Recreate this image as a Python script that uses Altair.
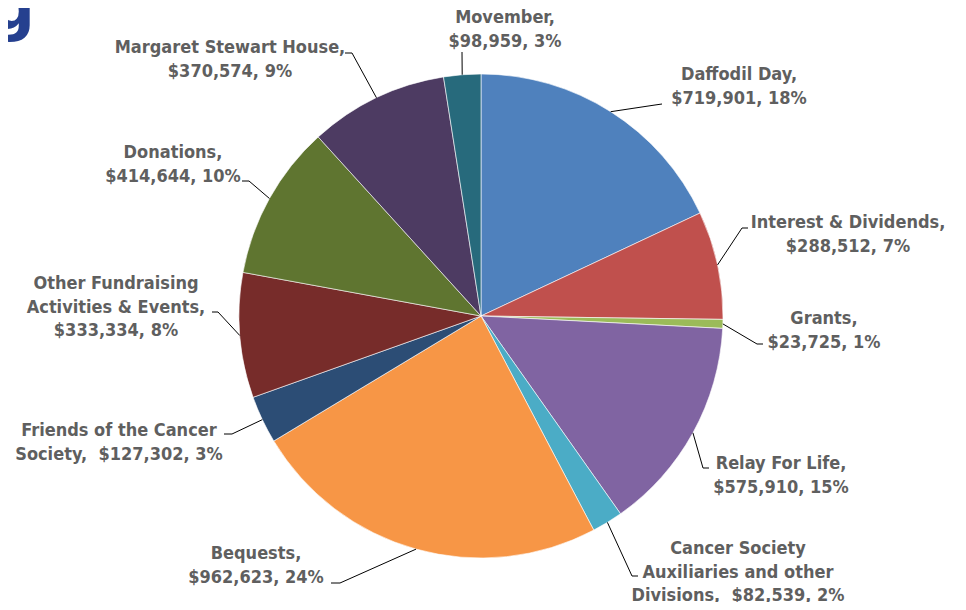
import math
import altair as alt
import pandas as pd

# ---------------- data ----------------
categories = [
    "Daffodil Day", "Interest & Dividends", "Grants", "Relay For Life",
    "Cancer Society Auxiliaries and other Divisions", "Bequests",
    "Friends of the Cancer Society", "Other Fundraising Activities & Events",
    "Donations", "Margaret Stewart House", "Movember",
]
values = [719901, 288512, 23725, 575910, 82539, 962623, 127302, 333334, 414644, 370574, 98959]
percent_labels = ["18%", "7%", "1%", "15%", "2%", "24%", "3%", "8%", "10%", "9%", "3%"]
name_lines = [
    "Daffodil Day", "Interest & Dividends", "Grants", "Relay For Life",
    "Cancer Society\nAuxiliaries and other\nDivisions", "Bequests",
    "Friends of the Cancer\nSociety", "Other Fundraising\nActivities & Events",
    "Donations", "Margaret Stewart House", "Movember",
]
value_sep = ["\n", "\n", "\n", "\n", "\u00a0 ", "\n", "\u00a0 ", "\n", "\n", "\n", "\n"]
colors = ["#4F81BD", "#C0504D", "#9BBB59", "#8064A2", "#4BACC6", "#F79646",
          "#2C4D75", "#772C2A", "#5F7530", "#4D3B62", "#276A7C"]

# ---------------- layout (pixels relative to pie centre, y down) ----------------
R = 242
W, H = 950, 594
CX, CY = 473, 308
leader_elbow = [(174, -211), (261, -88), (276, 28), (222, 152), (151, 260), (-141, 267),
                (-249, 118), (-263, -4), (-232, -135), (-129, -263), (-19, -264)]
leader_end = [(181, -212), (267, -88), (282, 28), (228, 152), (157, 260), (-150, 267),
              (-257, 118), (-269, -4), (-239, -135), (-136, -263), (-19, -264)]
# centre of each label's first line
label_pos = [(258, -241), (367, -93), (343, 3), (300, 148), (257, 233), (-225, 238),
             (-362, 115), (-365, -32), (-308, -163), (-251, -268), (24, -298)]

total = sum(values)
pie_df = pd.DataFrame({
    "category": categories,
    "value": values,
    "idx": list(range(len(values))),
    "cx": 0.0,
    "cy": 0.0,
})

# leader lines: slice edge (from the mid angle) -> elbow -> end
rows = []
cum = 0
for i, (c, v) in enumerate(zip(categories, values)):
    mid = (cum + v / 2) / total * 2 * math.pi
    cum += v
    ex, ey = R * math.sin(mid), -R * math.cos(mid)
    pts = [(ex, ey), leader_elbow[i], leader_end[i]]
    for k, (px, py) in enumerate(pts):
        rows.append({"category": c, "pt": k, "x": px, "y": py})
lead_df = pd.DataFrame(rows)

lab_df = pd.DataFrame({
    "category": categories,
    "label": [f"{n},{s}${v:,}, {p}" for n, s, v, p in zip(name_lines, value_sep, values, percent_labels)],
    "x": [p[0] for p in label_pos],
    "y": [p[1] for p in label_pos],
})

xs = alt.Scale(domain=[-CX, W - CX], nice=False, zero=False)
ys = alt.Scale(domain=[-CY, H - CY], nice=False, zero=False, reverse=True)

pie = alt.Chart(pie_df).mark_arc(radius=R, stroke="white", strokeWidth=0.6).encode(
    theta=alt.Theta("value:Q", stack=True),
    order=alt.Order("idx:Q", sort="ascending"),
    color=alt.Color("category:N", scale=alt.Scale(domain=categories, range=colors), legend=None),
    x=alt.X("cx:Q", scale=xs, axis=None),
    y=alt.Y("cy:Q", scale=ys, axis=None),
)

leaders = alt.Chart(lead_df).mark_line(color="#000000", strokeWidth=1).encode(
    x=alt.X("x:Q", scale=xs, axis=None),
    y=alt.Y("y:Q", scale=ys, axis=None),
    detail="category:N",
    order=alt.Order("pt:Q"),
)

labels = alt.Chart(lab_df).mark_text(
    font="DejaVu Sans Condensed", fontSize=18, fontWeight="bold", color="#5f5f5f",
    lineBreak="\n", lineHeight=23.5, align="center", baseline="middle",
).encode(
    x=alt.X("x:Q", scale=xs, axis=None),
    y=alt.Y("y:Q", scale=ys, axis=None),
    text="label:N",
)

title_frag = alt.Chart(pd.DataFrame({"t": ["g"]})).mark_text(
    font="DejaVu Sans", fontSize=62, fontWeight="bold", color="#25408F",
    align="right", baseline="alphabetic",
).encode(text="t:N", x=alt.value(27), y=alt.value(21))

chart = alt.layer(pie, leaders, labels, title_frag).properties(
    width=W, height=H, padding=0, autosize=alt.AutoSizeParams(type="none"),
).configure_view(stroke=None)

chart.save("out.html", embed_options={"renderer": "svg", "actions": False})
